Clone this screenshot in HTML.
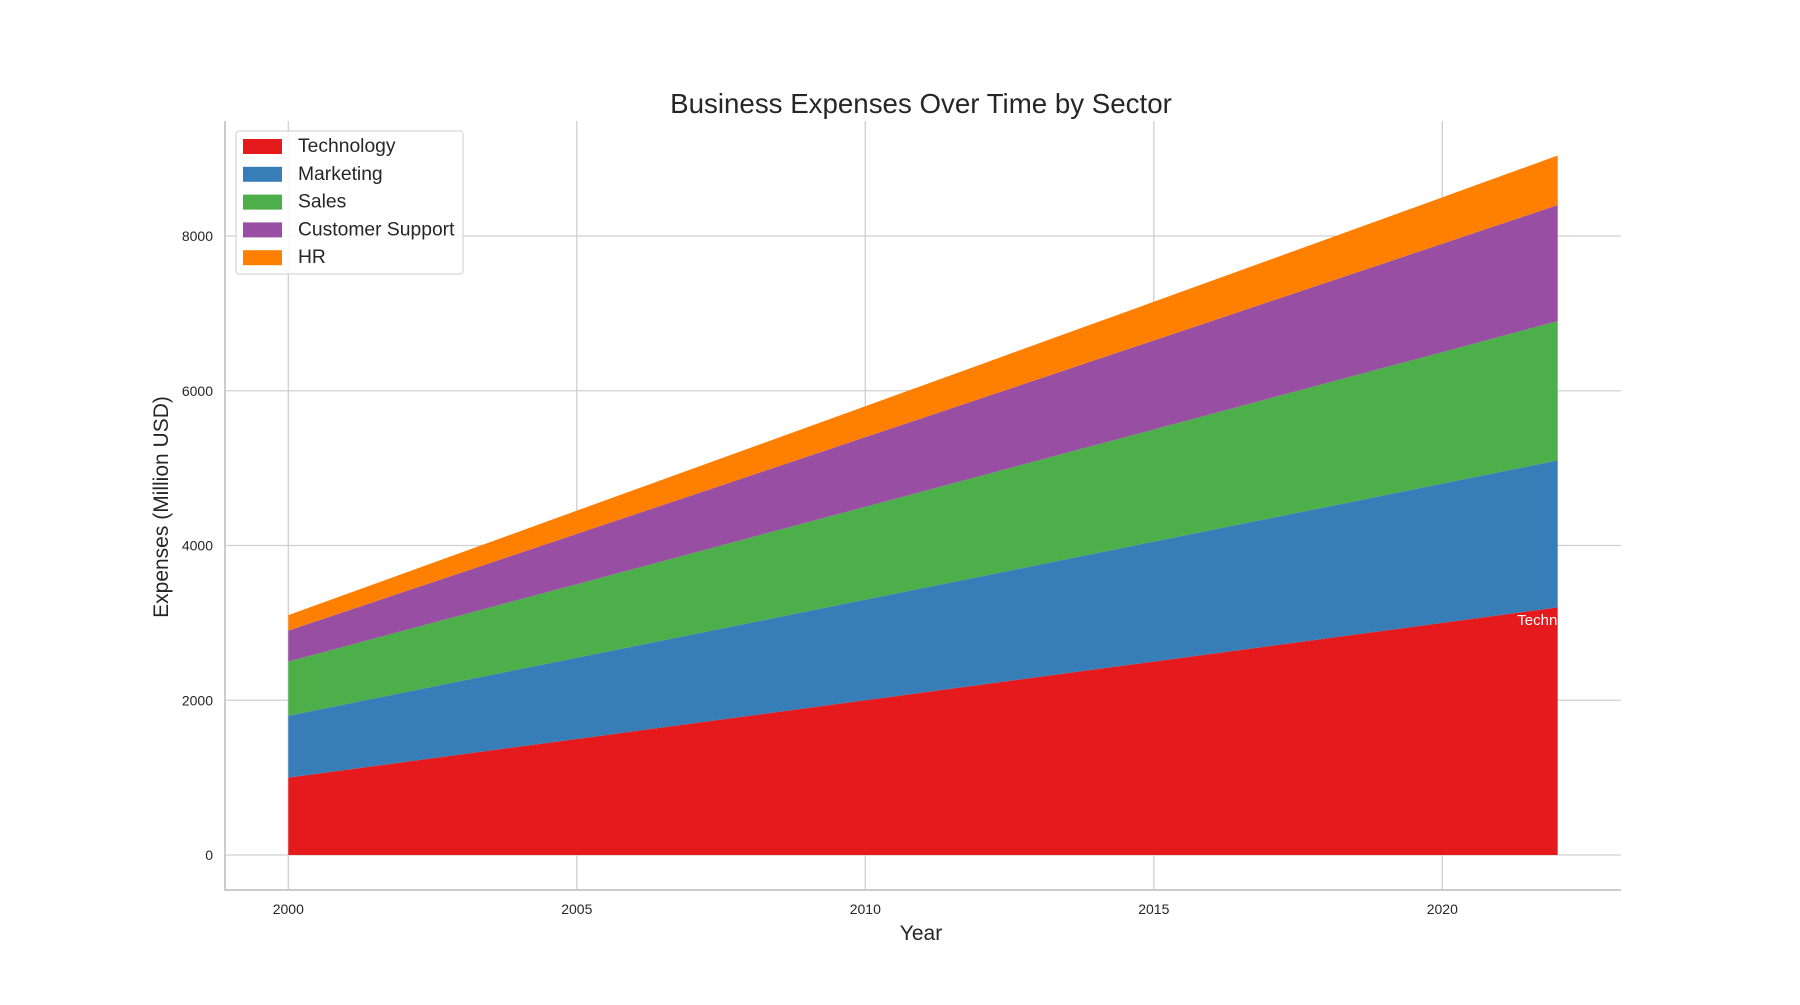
<!DOCTYPE html>
<html><head><meta charset="utf-8"><style>
body{margin:0;background:#fff;}
svg text{font-family:"Liberation Sans",Arial,sans-serif;}
</style></head><body>
<svg id="chart" width="1800" height="1000" xmlns="http://www.w3.org/2000/svg">
<rect width="1800" height="1000" fill="#fff"/>
<g id="grid"></g>
<g id="areas"></g>
<g id="axes"></g>
</svg>
<script>
const years = [2000,2001,2002,2003,2004,2005,2006,2007,2008,2009,2010,2011,2012,2013,2014,2015,2016,2017,2018,2019,2020,2021,2022];
const technology = [1000,1100,1200,1300,1400,1500,1600,1700,1800,1900,2000,2100,2200,2300,2400,2500,2600,2700,2800,2900,3000,3100,3200];
const marketing = [800,850,900,950,1000,1050,1100,1150,1200,1250,1300,1350,1400,1450,1500,1550,1600,1650,1700,1750,1800,1850,1900];
const sales = [700,750,800,850,900,950,1000,1050,1100,1150,1200,1250,1300,1350,1400,1450,1500,1550,1600,1650,1700,1750,1800];
const customerSupport = [400,450,500,550,600,650,700,750,800,850,900,950,1000,1050,1100,1150,1200,1250,1300,1350,1400,1450,1500];
const hr = [200,220,240,260,280,300,320,340,360,380,400,420,440,460,480,500,520,540,560,580,600,620,640];
const seriesNames = ["Technology","Marketing","Sales","Customer Support","HR"];
const seriesColors = ["#e41a1c","#377eb8","#4daf4a","#984ea3","#ff7f00"];
const xTicks = [2000,2005,2010,2015,2020];
const yTicks = [0,2000,4000,6000,8000];

const NS="http://www.w3.org/2000/svg";
const L=225,R=1621,T=121,B=890;
function xs(v){return 288.3+(v-2000)*(1557.7-288.3)/22;}
function ys(v){return 855-v*(855-236)/8000;}
function mk(tag,attrs,parent){const e=document.createElementNS(NS,tag);for(const k in attrs)e.setAttribute(k,attrs[k]);parent.appendChild(e);return e;}
const grid=document.getElementById('grid'),areas=document.getElementById('areas'),axes=document.getElementById('axes');

xTicks.forEach(t=>{
  const l=mk('line',{x1:xs(t),x2:xs(t),y1:T,y2:B,stroke:'#d0d0d0','stroke-width':1.3},grid);
  
  
  const tx=mk('text',{x:xs(t),y:914,'text-anchor':'middle','font-size':14,fill:'#262626'},axes);
  tx.textContent=t;
  
  
});
yTicks.forEach(t=>{
  const l=mk('line',{x1:L,x2:R,y1:ys(t),y2:ys(t),stroke:'#d0d0d0','stroke-width':1.3},grid);
  
  
  const tx=mk('text',{x:213,y:ys(t)+5,'text-anchor':'end','font-size':14,fill:'#262626'},axes);
  tx.textContent=t;
  
  
});

const data=[technology,marketing,sales,customerSupport,hr];
let base=years.map(()=>0);
data.forEach((s,i)=>{
  const top=s.map((v,j)=>base[j]+v);
  let d='M'+years.map((y,j)=>xs(y)+','+ys(top[j])).join(' L');
  for(let j=years.length-1;j>=0;j--) d+=' L'+xs(years[j])+','+ys(base[j]);
  d+=' Z';
  const p=mk('path',{d:d,fill:seriesColors[i]},areas);
  
  
  base=top;
});

const lbl=mk('text',{x:xs(2021.3),y:ys(technology[21]-60)+5,'font-size':15,fill:'#fff'},axes);
lbl.textContent='Technology';



const sp1=mk('line',{x1:L,x2:L,y1:T,y2:B+1,stroke:'#cccccc','stroke-width':2},axes);


const sp2=mk('line',{x1:L-1,x2:R,y1:B,y2:B,stroke:'#cccccc','stroke-width':2},axes);



const title=mk('text',{x:921,y:113,'text-anchor':'middle','font-size':27.7,fill:'#262626'},axes);
title.textContent='Business Expenses Over Time by Sector';


const xl=mk('text',{x:921,y:949-9,'text-anchor':'middle','font-size':21,fill:'#262626'},axes);
xl.textContent='Year';


const yl=mk('text',{x:0,y:0,'text-anchor':'middle','font-size':21,fill:'#262626',transform:'translate(168,507) rotate(-90)'},axes);
yl.textContent='Expenses (Million USD)';



const lg=mk('g',{},axes);


mk('rect',{x:236,y:131,width:227,height:143,rx:3,fill:'#fff','fill-opacity':0.85,stroke:'#d6d6d6','stroke-width':1.2},lg);
seriesNames.forEach((n,i)=>{
  const y=146+i*27.8;
  const r=mk('rect',{x:243,y:y-7,width:39,height:15,fill:seriesColors[i]},lg);
  
  
  const t=mk('text',{x:298,y:y+6,'font-size':19.3,fill:'#262626'},lg);
  t.textContent=n;
  
  
});
</script>
</body></html>
